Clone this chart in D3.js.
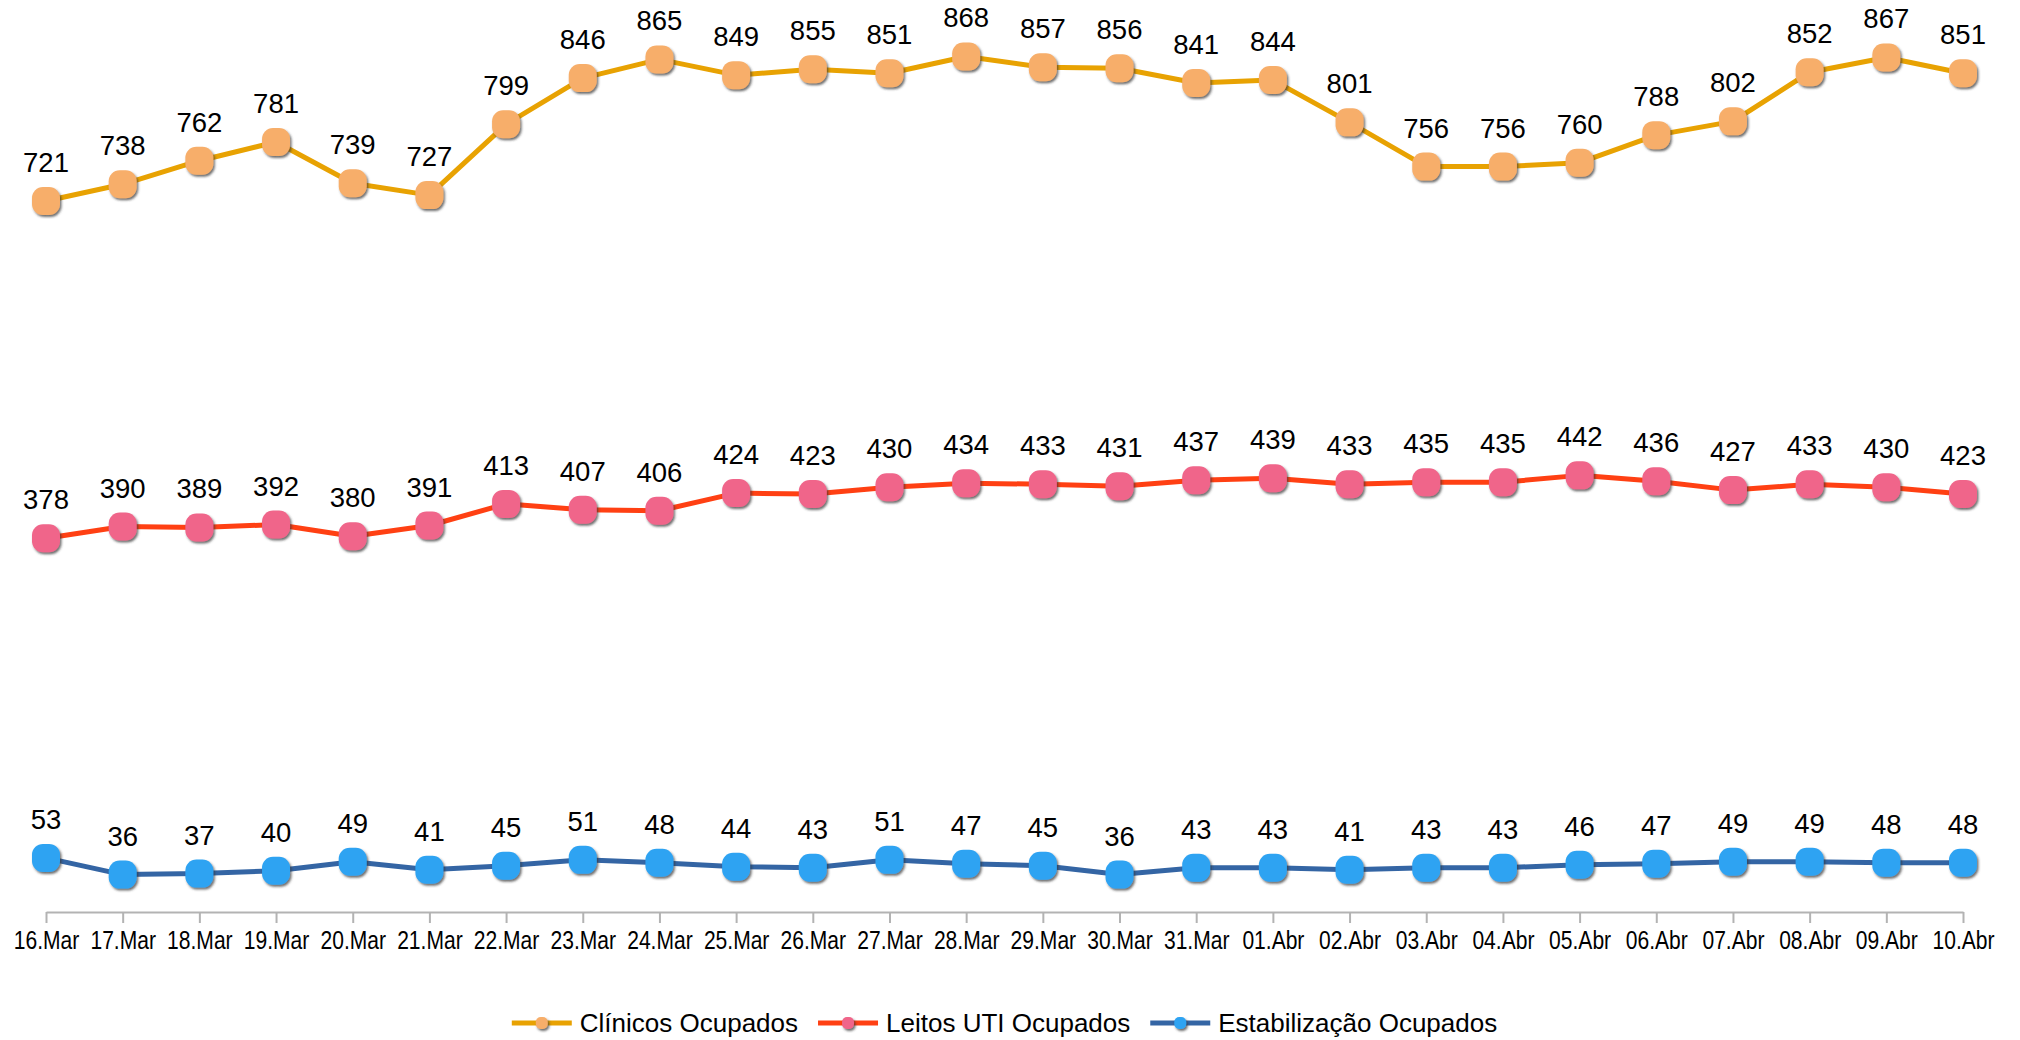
<!DOCTYPE html>
<html>
<head>
<meta charset="utf-8">
<script src="https://cdn.jsdelivr.net/npm/d3@7"></script>
<style>
  body { margin: 0; background: #fff; }
  text { font-family: "Liberation Sans", Arial, sans-serif; }
</style>
</head>
<body>
<svg id="chart" width="2020" height="1040"></svg>
<script>
// data
const dates = ['16.Mar', '17.Mar', '18.Mar', '19.Mar', '20.Mar', '21.Mar', '22.Mar', '23.Mar', '24.Mar',
    '25.Mar', '26.Mar', '27.Mar', '28.Mar', '29.Mar', '30.Mar', '31.Mar', '01.Abr', '02.Abr', '03.Abr',
    '04.Abr', '05.Abr', '06.Abr', '07.Abr', '08.Abr', '09.Abr', '10.Abr'];
const clinicos = [721, 738, 762, 781, 739, 727, 799, 846, 865, 849, 855, 851, 868, 857, 856, 841, 844,
    801, 756, 756, 760, 788, 802, 852, 867, 851];
const uti = [378, 390, 389, 392, 380, 391, 413, 407, 406, 424, 423, 430, 434, 433, 431, 437, 439,
    433, 435, 435, 442, 436, 427, 433, 430, 423];
const estab = [53, 36, 37, 40, 49, 41, 45, 51, 48, 44, 43, 51, 47, 45, 36, 43, 43,
    41, 43, 43, 46, 47, 49, 49, 48, 48];
const seriesNames = ['Clínicos Ocupados', 'Leitos UTI Ocupados', 'Estabilização Ocupados'];

const series = [
    { name: seriesNames[0], values: clinicos, line: '#e8a202', fill: '#f7ae6a' },
    { name: seriesNames[1], values: uti, line: '#ff4013', fill: '#f0658a' },
    { name: seriesNames[2], values: estab, line: '#3465a4', fill: '#2ea3f2' }
];

const svg = d3.select('#chart');
const plot = { left: 46, right: 1963, top: 25, bottom: 912 };

const xScale = d3.scalePoint().domain(dates).range([plot.left, plot.right]);
const yScale = d3.scaleLinear().domain([0, 900]).range([plot.bottom - 2, plot.top]);

// drop shadow for the markers
const defs = svg.append('defs');
const f = defs.append('filter').attr('id', 'shadow')
    .attr('x', '-50%').attr('y', '-50%').attr('width', '200%').attr('height', '200%');
f.append('feDropShadow').attr('dx', 1.5).attr('dy', 2).attr('stdDeviation', 1.2)
    .attr('flood-color', '#333').attr('flood-opacity', 0.7);

// x axis
const xAxisG = svg.append('g').attr('transform', `translate(0,${plot.bottom})`)
    .call(d3.axisBottom(xScale).tickSizeOuter(0).tickSizeInner(11).tickPadding(8));
xAxisG.select('.domain').attr('stroke', '#b3b3b3').attr('stroke-width', 2);
xAxisG.selectAll('.tick line').attr('stroke', '#b3b3b3').attr('stroke-width', 2);
xAxisG.selectAll('.tick text')
    .attr('font-family', '"Liberation Sans", Arial, sans-serif')
    .attr('font-size', 26)
    .attr('fill', '#000')
    .attr('transform', 'scale(0.81,1)');

const line = d3.line()
    .x((d, i) => xScale(dates[i]))
    .y(d => yScale(d));

const size = 28;

series.forEach(function (s) {
    const g = svg.append('g');
    g.append('path')
        .datum(s.values)
        .attr('d', line)
        .attr('fill', 'none')
        .attr('stroke', s.line)
        .attr('stroke-width', 5)
        .attr('stroke-linejoin', 'round');

    g.selectAll('rect')
        .data(s.values)
        .join('rect')
        .attr('x', (d, i) => xScale(dates[i]) - size / 2)
        .attr('y', d => yScale(d) - size / 2)
        .attr('width', size)
        .attr('height', size)
        .attr('rx', 11)
        .attr('fill', s.fill)
        .attr('filter', 'url(#shadow)');

    g.selectAll('text')
        .data(s.values)
        .join('text')
        .attr('x', (d, i) => xScale(dates[i]))
        .attr('y', d => yScale(d) - 29)
        .attr('text-anchor', 'middle')
        .attr('font-size', 27.5)
        .attr('fill', '#000')
        .text(d => d);
});

// legend
const legend = svg.append('g');
let lx = 0;
series.forEach(function (s) {
    const it = legend.append('g').attr('transform', `translate(${lx},0)`);
    it.append('line').attr('x1', 0).attr('x2', 60).attr('y1', 0).attr('y2', 0)
        .attr('stroke', s.line).attr('stroke-width', 5);
    it.append('rect').attr('x', 30 - 6).attr('y', -6).attr('width', 12).attr('height', 12)
        .attr('rx', 5).attr('fill', s.fill).attr('filter', 'url(#shadow)');
    const t = it.append('text').attr('x', 68).attr('y', 9)
        .attr('font-size', 26).attr('fill', '#000').text(s.name);
    lx += 68 + t.node().getComputedTextLength() + 20;
});
const total = lx - 20;
legend.attr('transform', `translate(${(plot.left + plot.right) / 2 - total / 2},1023)`);
</script>
</body>
</html>
